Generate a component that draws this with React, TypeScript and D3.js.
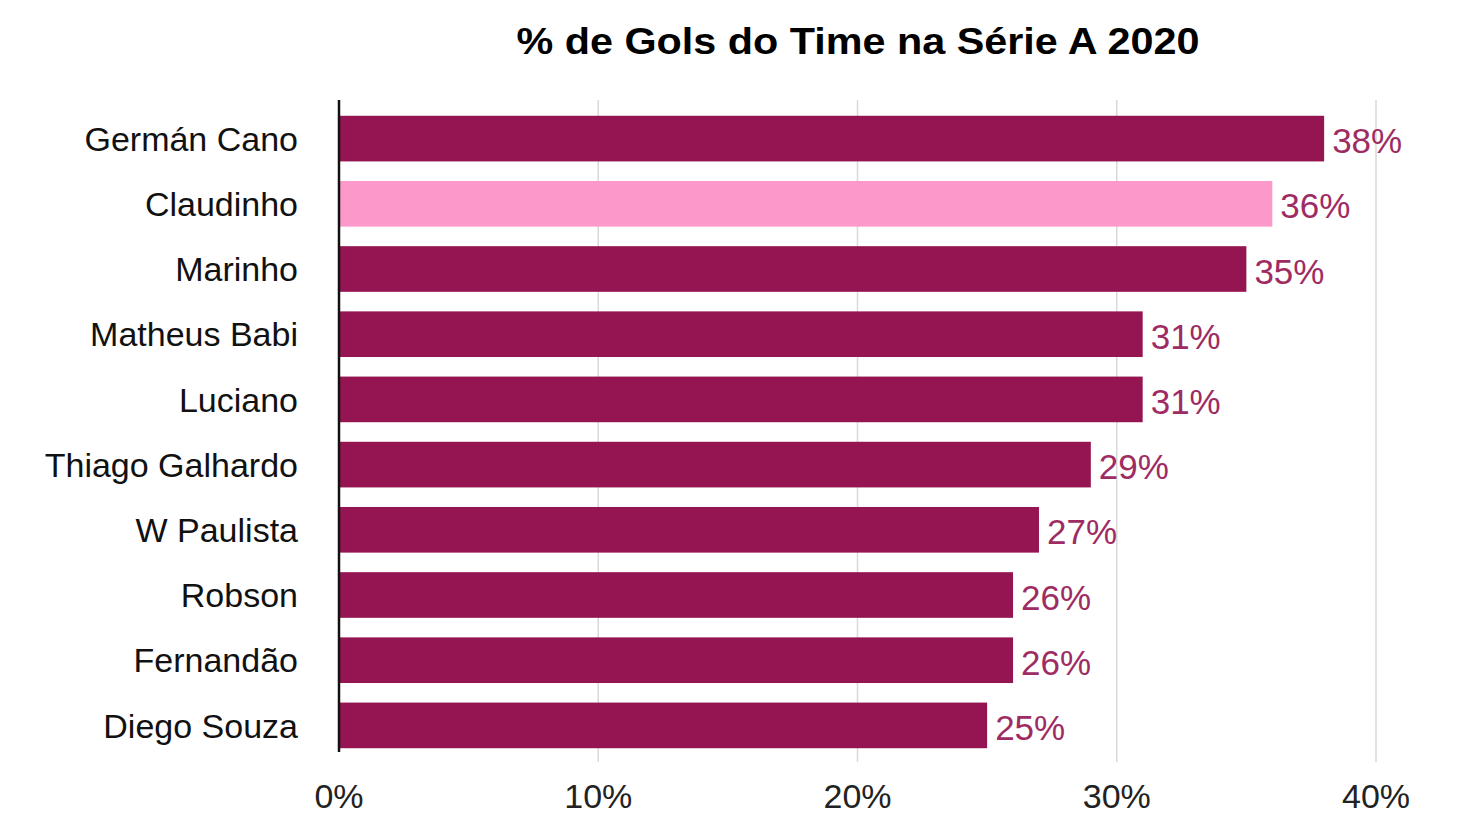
import React from "react";
import * as d3 from "d3";

const players = ["Germán Cano", "Claudinho", "Marinho", "Matheus Babi", "Luciano", "Thiago Galhardo", "W Paulista", "Robson", "Fernandão", "Diego Souza"];
const shares = [38, 36, 35, 31, 31, 29, 27, 26, 26, 25];
const highlighted = ["Claudinho"];
const ticks = [0, 10, 20, 30, 40];
const title = "% de Gols do Time na Série A 2020";

const W = 1460, H = 834;
const FONT = "'Liberation Sans', Arial, Helvetica, sans-serif";

export default function App() {
  const x = d3.scaleLinear().domain([0, 40]).range([339, 1376]);
  const y = d3.scaleBand<string>().domain(players).range([106, 758]).paddingInner(0.3).paddingOuter(0.15);
  const fmt = (v: number) => `${v}%`;
  return (
    <svg width={W} height={H} style={{ position: "absolute", left: 0, top: 0, background: "#fff" }} fontFamily={FONT}>
      <text x={858} y={54} textAnchor="middle" fontSize={37} fontWeight="bold" fill="#000" textLength={683} lengthAdjust="spacingAndGlyphs">{title}</text>
      {ticks.filter(t => t > 0).map(t => (
        <line key={t} x1={x(t)} x2={x(t)} y1={100} y2={762} stroke="#d9d9d9" strokeWidth={1.5} />
      ))}
      {players.map((p, i) => (
        <g key={p}>
          <rect x={x(0)} y={y(p)!} width={x(shares[i]) - x(0)} height={y.bandwidth()} fill={highlighted.includes(p) ? "#fc99ca" : "#951552"} />
          <text x={x(shares[i]) + 8} y={y(p)! + y.bandwidth() / 2 + 2} dy="0.36em" fontSize={35} fill="#9e2c63">{fmt(shares[i])}</text>
          <text x={298} y={y(p)! + y.bandwidth() / 2} dy="0.36em" textAnchor="end" fontSize={34} fill="#111">{p}</text>
        </g>
      ))}
      <line x1={x(0)} x2={x(0)} y1={100} y2={752} stroke="#111" strokeWidth={2.5} />
      {ticks.map(t => (
        <text key={t} x={x(t)} y={808} textAnchor="middle" fontSize={34} fill="#222">{fmt(t)}</text>
      ))}
    </svg>
  );
}
